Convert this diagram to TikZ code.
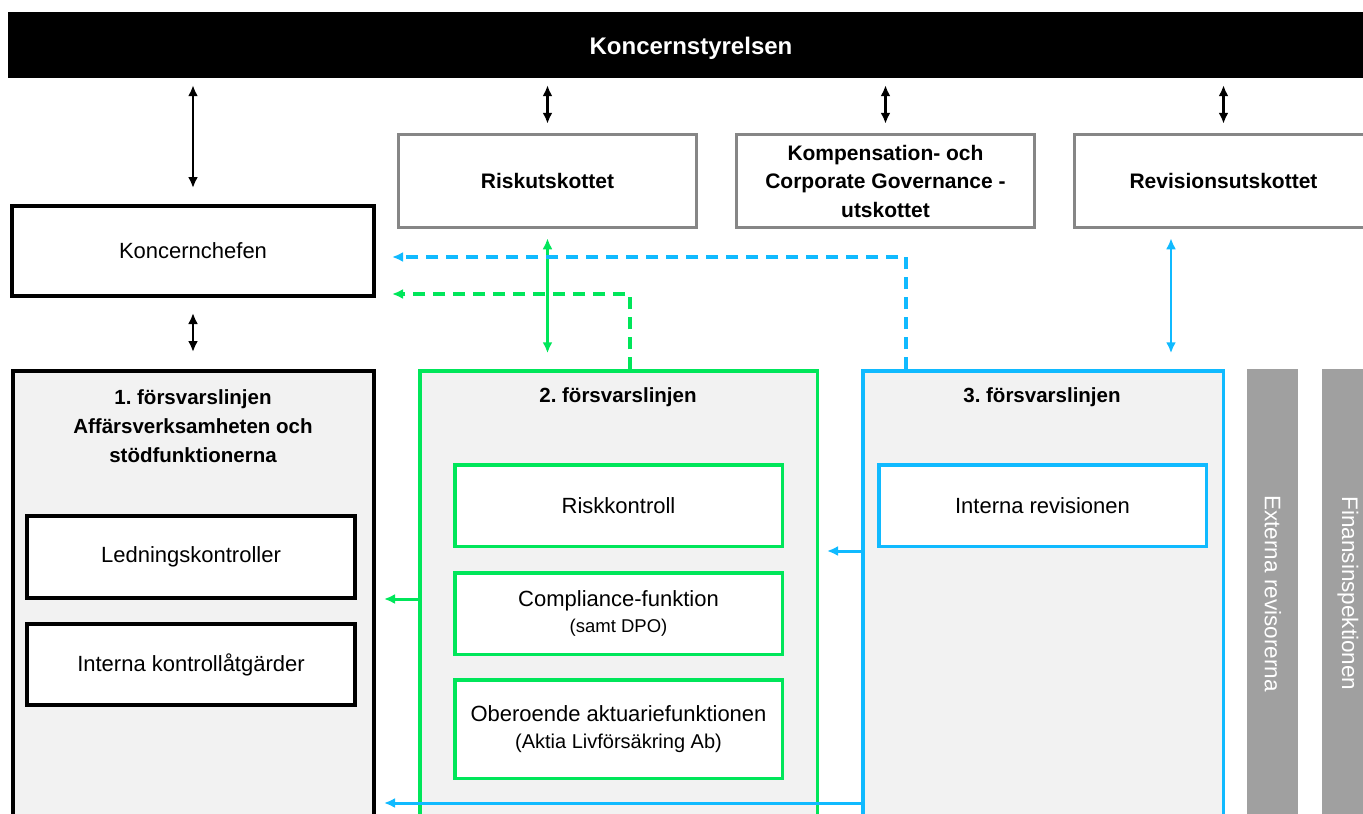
\documentclass[tikz,border=0pt]{standalone}
\usepackage{fontspec}
\setmainfont{Liberation Sans}
\frenchspacing
\usetikzlibrary{arrows.meta}
\definecolor{lgreen}{HTML}{00E65A}
\definecolor{lblue}{HTML}{10BAFF}
\definecolor{cgray}{HTML}{868686}
\definecolor{bgray}{HTML}{A0A0A0}
\definecolor{fillg}{HTML}{F2F2F2}
\tikzset{
  regtxt/.style={font=\fontsize{22}{28}\selectfont},
  committee/.style={draw=cgray, line width=3.5pt, fill=white, minimum width=298pt, minimum height=93pt,
     inner sep=0pt, align=center, font=\bfseries\fontsize{21}{28.5}\selectfont},
  container/.style={line width=3.5pt, fill=fillg, inner sep=0pt},
  ttl/.style={align=center, font=\bfseries\fontsize{20.5}{29}\selectfont},
  inbox/.style={line width=3.5pt, fill=white, minimum width=328pt, inner sep=0pt, align=center, regtxt},
  sidebar/.style={fill=bgray, inner sep=0pt},
  sidetxt/.style={text=white, rotate=-90, font=\fontsize{22.5}{26}\selectfont},
  barr/.style={{Latex[length=11pt,width=10pt]}-{Latex[length=11pt,width=10pt]}, line width=2.8pt},
  garr/.style={barr, draw=lgreen},
  bsarr/.style={barr, draw=lblue},
  gone/.style={-{Latex[length=11pt,width=10pt]}, line width=3pt, draw=lgreen},
  bone/.style={-{Latex[length=11pt,width=10pt]}, line width=3pt, draw=lblue},
  ddash/.style={-{Latex[length=11pt,width=10pt]}, line width=3.6pt, dash pattern=on 12pt off 8pt},
}
\begin{document}
\begin{tikzpicture}[x=1pt,y=-1pt]
\useasboundingbox (0,0) rectangle (1363,814);
\clip (0,0) rectangle (1363,814);

% board
\node[fill=black, minimum width=1366pt, minimum height=66pt, inner sep=0pt, text=white, text height=23.5pt,
      font=\bfseries\fontsize{24}{28}\selectfont] (board) at (691,45) {Koncernstyrelsen};

% CEO
\node[draw=black, line width=4pt, fill=white, minimum width=362pt, minimum height=90pt, inner sep=0pt, regtxt]
   (chef) at (193,251) {Koncernchefen};

% committees
\node[committee] (risk) at (547.5,181) {Riskutskottet};
\node[committee] (komp) at (885.5,181) {Kompensation- och\\Corporate Governance -\\utskottet};
\node[committee] (rev) at (1223.5,181) {Revisionsutskottet};

% containers
\node[container, draw=black, line width=4pt, minimum width=361pt, minimum height=469pt] (l1) at (193.5,605.5) {};
\node[container, draw=lgreen, minimum width=397.5pt, minimum height=469pt] (l2) at (618.5,605.5) {};
\node[container, draw=lblue, minimum width=360.5pt, minimum height=469pt] (l3) at (1043,605.5) {};

\node[ttl] (t1) at (193,426) {1. försvarslinjen\\Affärsverksamheten och\\stödfunktionerna};
\node[ttl] (t2) at (618,397) {2. försvarslinjen};
\node[ttl] (t3) at (1042,397) {3. försvarslinjen};

% inner boxes
\node[inbox, draw=black, line width=4pt, minimum height=82pt] (led) at (191,557) {Ledningskontroller};
\node[inbox, draw=black, line width=4pt, minimum height=81pt] (ikon) at (191,664.5) {Interna kontrollåtgärder};
\node[inbox, draw=lgreen, minimum width=327.5pt, minimum height=81.5pt] (rk) at (618.5,505.5) {Riskkontroll};
\node[inbox, draw=lgreen, minimum width=327.5pt, minimum height=81.5pt] (comp) at (618.5,613.5)
   {Compliance-funktion\\[-2pt]{\fontsize{18.5}{22}\selectfont (samt DPO)}};
\node[inbox, draw=lgreen, minimum width=327.5pt, minimum height=98.5pt] (obe) at (618.5,729)
   {Oberoende aktuariefunktionen\\[-1pt]{\fontsize{20}{22}\selectfont (Aktia Livförsäkring Ab)}};
\node[inbox, draw=lblue, minimum width=327.5pt, minimum height=81.5pt] (ir) at (1042.5,505.5) {Interna revisionen};

% side bars
\node[sidebar, minimum width=51pt, minimum height=470pt] (ext) at (1272.5,604) {};
\node[sidebar, minimum width=52pt, minimum height=470pt] (fi) at (1348,604) {};
\node[sidetxt] (extt) at (1273,593.5) {Externa revisorerna};
\node[sidetxt] (fit) at (1348,593.5) {Finansinspektionen};

% black arrows
\draw[barr, shorten <=7pt, shorten >=16pt] (board.south -| chef.north) -- (chef.north);
\draw[barr, shorten <=7pt, shorten >=9pt] (board.south -| risk.north) -- (risk.north);
\draw[barr, shorten <=7pt, shorten >=9pt] (board.south -| komp.north) -- (komp.north);
\draw[barr, shorten <=7pt, shorten >=9pt] (board.south -| rev.north) -- (rev.north);
\draw[barr, shorten <=15pt, shorten >=17pt] (chef.south) -- (chef.south |- l1.north);

% committee to lines
\draw[garr, shorten <=9pt, shorten >=16pt] (risk.south) -- (risk.south |- l2.north);
\draw[bsarr, shorten <=9pt, shorten >=16pt] ([xshift=-52.5pt]rev.south) -- ([xshift=-52.5pt]rev.south |- l3.north);

% dashed reporting lines
\coordinate (bdtop) at (906,257);
\coordinate (gdtop) at (630,294);
\draw[ddash, draw=lblue, shorten >=16pt] (bdtop |- l3.north) -- (bdtop) -- (chef.east |- bdtop);
\draw[ddash, draw=lgreen, shorten >=16pt] (gdtop |- l2.north) -- (gdtop) -- (chef.east |- gdtop);

% horizontal arrows
\coordinate (ya) at (0,599);
\coordinate (yb) at (0,551);
\coordinate (yc) at (0,803);
\draw[gone, shorten >=8pt] (l2.west |- ya) -- (l1.east |- ya);
\draw[bone, shorten >=8pt] (l3.west |- yb) -- (l2.east |- yb);
\draw[bone, shorten >=8pt] (l3.west |- yc) -- (l1.east |- yc);
\end{tikzpicture}
\end{document}
